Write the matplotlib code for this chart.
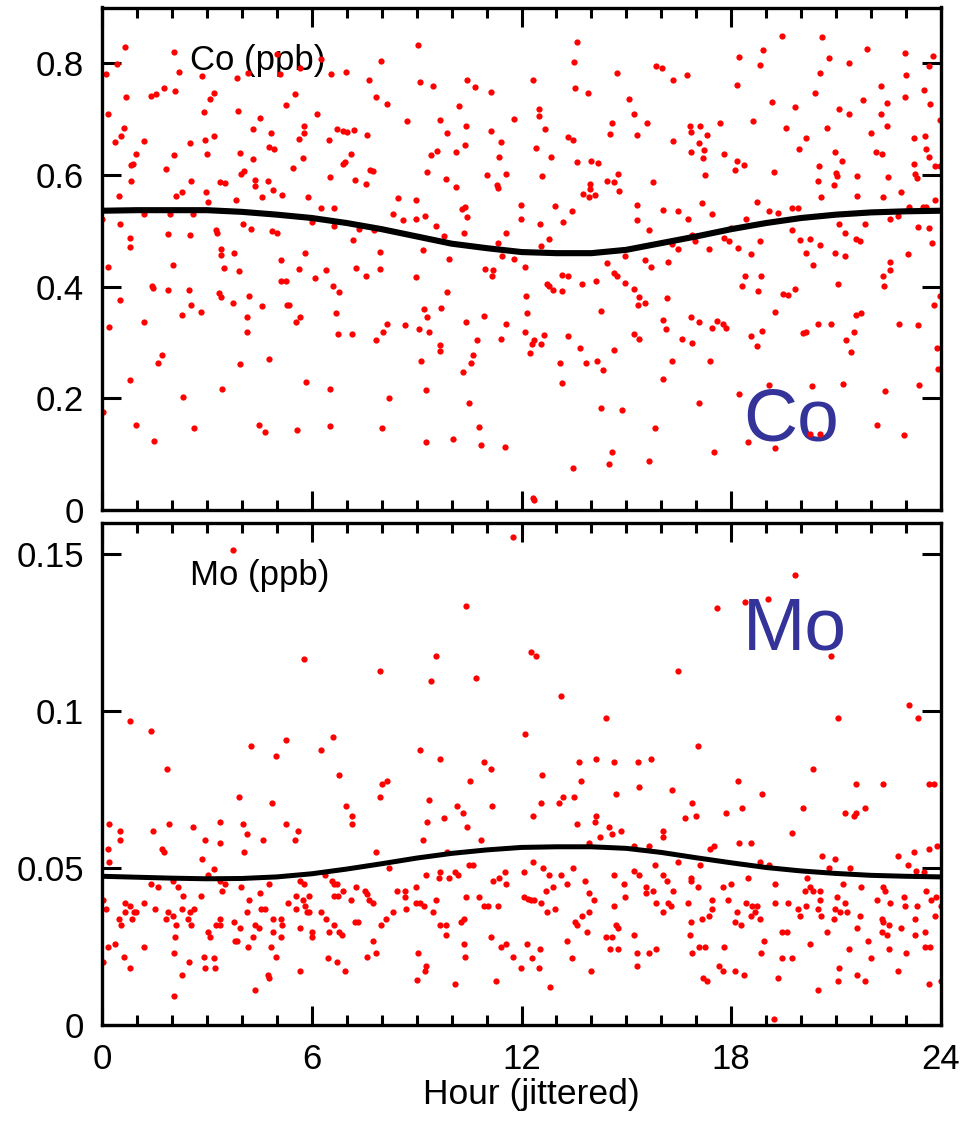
import numpy as np
import matplotlib
matplotlib.use("Agg")
import matplotlib.pyplot as plt
from matplotlib.ticker import MultipleLocator, FixedLocator

plt.rcParams['font.family'] = ['Liberation Sans', 'DejaVu Sans']

# hourly cobalt samples: (hour, ppb)
co_points = [
    (0.67, 0.830), (0.42, 0.798), (0.11, 0.781), (2.06, 0.821), (2.19, 0.785), (0.69, 0.739), (0.18, 0.709),
    (1.39, 0.742), (1.54, 0.745), (1.76, 0.755), (2.09, 0.751), (2.87, 0.778), (3.85, 0.774), (4.18, 0.782),
    (2.91, 0.713), (3.09, 0.736), (3.21, 0.747), (3.88, 0.715), (4.51, 0.702), (5.00, 0.817), (5.09, 0.781),
    (5.51, 0.745), (5.26, 0.725), (6.14, 0.709), (6.27, 0.808), (5.65, 0.791), (0.62, 0.685), (0.54, 0.670),
    (0.36, 0.659), (1.19, 0.660), (0.96, 0.638), (0.84, 0.618), (0.89, 0.619), (0.84, 0.590), (0.48, 0.562),
    (1.82, 0.611), (2.06, 0.636), (2.12, 0.562), (2.30, 0.570), (2.51, 0.657), (2.55, 0.590), (2.94, 0.663),
    (3.21, 0.670), (3.00, 0.638), (2.97, 0.570), (3.04, 0.551), (3.38, 0.587), (3.52, 0.585), (3.82, 0.556),
    (3.96, 0.639), (3.97, 0.602), (4.07, 0.607), (4.33, 0.683), (4.33, 0.628), (4.39, 0.591), (4.38, 0.580),
    (4.59, 0.560), (4.75, 0.589), (4.84, 0.675), (4.78, 0.650), (4.92, 0.647), (4.90, 0.574), (5.15, 0.565),
    (5.45, 0.612), (5.64, 0.664), (5.78, 0.688), (5.78, 0.676), (5.75, 0.631), (5.90, 0.560), (6.27, 0.540),
    (6.48, 0.662), (6.51, 0.597), (0.00, 0.522), (0.52, 0.513), (1.21, 0.531), (1.94, 0.530), (2.60, 0.530),
    (0.81, 0.487), (0.81, 0.471), (1.89, 0.494), (2.52, 0.492), (3.25, 0.501), (3.28, 0.497), (4.03, 0.513),
    (4.27, 0.503), (4.85, 0.499), (5.00, 0.497), (6.02, 0.516), (3.39, 0.467), (3.39, 0.456), (3.78, 0.460),
    (0.18, 0.435), (2.02, 0.439), (3.48, 0.434), (3.93, 0.428), (5.12, 0.447), (5.12, 0.411), (5.27, 0.411),
    (5.64, 0.432), (5.82, 0.460), (6.09, 0.415), (6.40, 0.430), (1.43, 0.402), (1.46, 0.398), (1.89, 0.394),
    (2.48, 0.394), (0.52, 0.377), (3.35, 0.388), (3.39, 0.381), (3.75, 0.370), (4.21, 0.383), (2.55, 0.368),
    (2.30, 0.349), (2.84, 0.355), (4.57, 0.366), (5.28, 0.367), (5.34, 0.367), (4.14, 0.345), (4.14, 0.319),
    (5.65, 0.345), (5.54, 0.336), (0.21, 0.328), (1.21, 0.336), (1.72, 0.277), (1.61, 0.264), (3.96, 0.262),
    (4.78, 0.271), (0.81, 0.232), (3.42, 0.217), (2.33, 0.202), (5.84, 0.230), (6.51, 0.216), (0.03, 0.175),
    (0.96, 0.153), (2.63, 0.147), (4.48, 0.153), (4.66, 0.139), (5.57, 0.143), (1.50, 0.124), (6.51, 0.150),
    (9.04, 0.832), (7.99, 0.804), (6.55, 0.781), (6.97, 0.785), (7.63, 0.771), (7.84, 0.740), (8.14, 0.728),
    (9.11, 0.766), (9.47, 0.760), (10.45, 0.771), (10.68, 0.758), (11.14, 0.749), (12.33, 0.770), (13.59, 0.839),
    (13.51, 0.802), (13.53, 0.756), (13.89, 0.746), (14.72, 0.783), (6.72, 0.683), (6.88, 0.679), (7.01, 0.677),
    (7.21, 0.681), (7.57, 0.672), (7.12, 0.638), (6.95, 0.623), (6.90, 0.619), (7.67, 0.609), (7.74, 0.607),
    (7.23, 0.591), (7.54, 0.584), (8.72, 0.696), (9.66, 0.698), (9.88, 0.675), (10.21, 0.724), (10.41, 0.688),
    (10.39, 0.654), (10.12, 0.641), (9.57, 0.643), (9.42, 0.636), (9.29, 0.605), (9.84, 0.592), (10.12, 0.579),
    (11.14, 0.679), (11.42, 0.659), (11.36, 0.632), (11.02, 0.600), (11.57, 0.602), (11.29, 0.582), (11.33, 0.577),
    (11.78, 0.701), (12.50, 0.718), (12.50, 0.706), (12.67, 0.683), (12.41, 0.649), (12.84, 0.633), (12.59, 0.598),
    (11.99, 0.547), (11.99, 0.522), (12.54, 0.513), (12.96, 0.545), (13.18, 0.515), (13.44, 0.536), (13.32, 0.668),
    (13.48, 0.663), (13.59, 0.624), (13.99, 0.625), (14.20, 0.621), (13.96, 0.584), (13.96, 0.575), (13.75, 0.566),
    (13.94, 0.561), (14.09, 0.564), (14.44, 0.589), (14.66, 0.587), (14.77, 0.601), (14.78, 0.571), (14.59, 0.694),
    (14.53, 0.673), (8.46, 0.558), (8.99, 0.555), (8.33, 0.530), (8.60, 0.519), (8.97, 0.522), (9.23, 0.526),
    (9.54, 0.509), (10.29, 0.539), (10.38, 0.543), (10.45, 0.525), (10.36, 0.496), (11.57, 0.497), (6.63, 0.541),
    (6.63, 0.509), (7.34, 0.503), (7.77, 0.501), (7.18, 0.483), (7.96, 0.462), (9.18, 0.466), (9.78, 0.490),
    (9.93, 0.449), (11.32, 0.478), (11.44, 0.455), (11.78, 0.450), (12.09, 0.436), (12.56, 0.473), (12.80, 0.485),
    (10.96, 0.432), (11.19, 0.430), (11.16, 0.419), (7.26, 0.434), (7.56, 0.419), (7.96, 0.432), (6.60, 0.401),
    (6.79, 0.390), (8.99, 0.417), (9.87, 0.390), (13.17, 0.421), (13.32, 0.419), (12.73, 0.404), (12.78, 0.401),
    (12.91, 0.394), (13.15, 0.392), (13.72, 0.405), (14.12, 0.411), (14.44, 0.443), (14.65, 0.425), (14.72, 0.420),
    (12.12, 0.383), (12.17, 0.352), (14.27, 0.356), (6.70, 0.352), (6.76, 0.315), (7.15, 0.315), (7.84, 0.305),
    (8.04, 0.318), (8.14, 0.334), (8.67, 0.332), (9.21, 0.360), (9.29, 0.345), (9.69, 0.362), (9.08, 0.324),
    (9.36, 0.319), (9.68, 0.296), (9.66, 0.285), (10.41, 0.337), (10.93, 0.347), (10.72, 0.305), (10.60, 0.277),
    (10.55, 0.264), (10.33, 0.247), (11.55, 0.334), (11.42, 0.307), (12.09, 0.319), (12.36, 0.304), (12.29, 0.298),
    (12.57, 0.298), (12.63, 0.313), (12.24, 0.281), (13.32, 0.311), (13.67, 0.290), (13.85, 0.264), (14.15, 0.266),
    (14.33, 0.251), (14.65, 0.287), (13.09, 0.264), (13.15, 0.228), (9.13, 0.267), (8.21, 0.200), (9.26, 0.215),
    (10.49, 0.192), (8.02, 0.147), (9.26, 0.122), (10.03, 0.128), (10.78, 0.149), (10.84, 0.116), (11.54, 0.113),
    (13.48, 0.075), (14.27, 0.183), (14.87, 0.179), (14.60, 0.103), (14.51, 0.083), (12.33, 0.022), (12.36, 0.018),
    (19.46, 0.849), (20.60, 0.847), (21.89, 0.826), (22.97, 0.819), (23.77, 0.813), (23.66, 0.795), (20.81, 0.810),
    (21.37, 0.800), (18.91, 0.824), (18.21, 0.811), (18.82, 0.797), (18.16, 0.762), (15.85, 0.795), (16.03, 0.792),
    (16.32, 0.770), (16.73, 0.779), (20.55, 0.783), (20.40, 0.747), (22.28, 0.760), (23.00, 0.779), (23.52, 0.752),
    (22.98, 0.740), (23.69, 0.728), (23.98, 0.698), (21.76, 0.734), (22.45, 0.729), (22.28, 0.709), (22.46, 0.688),
    (21.09, 0.719), (21.37, 0.709), (20.73, 0.685), (21.99, 0.675), (19.82, 0.721), (19.16, 0.730), (19.58, 0.685),
    (18.61, 0.696), (17.67, 0.693), (15.07, 0.736), (15.23, 0.709), (15.58, 0.693), (15.29, 0.672), (16.34, 0.660),
    (16.83, 0.688), (17.11, 0.688), (16.85, 0.677), (17.31, 0.672), (17.07, 0.657), (17.22, 0.644), (16.86, 0.641),
    (17.18, 0.630), (17.25, 0.600), (17.79, 0.638), (18.16, 0.625), (18.12, 0.609), (18.36, 0.618), (19.22, 0.605),
    (20.13, 0.666), (19.94, 0.647), (20.97, 0.641), (21.17, 0.625), (20.51, 0.617), (20.49, 0.589), (21.01, 0.603),
    (21.02, 0.598), (20.94, 0.582), (21.60, 0.598), (22.13, 0.641), (22.31, 0.637), (22.49, 0.597), (23.23, 0.666),
    (23.55, 0.670), (23.57, 0.647), (23.66, 0.632), (23.24, 0.619), (23.84, 0.617), (23.98, 0.617), (23.26, 0.601),
    (23.31, 0.594), (22.85, 0.570), (22.33, 0.560), (21.61, 0.562), (20.57, 0.560), (15.77, 0.587), (15.29, 0.547),
    (16.04, 0.537), (16.49, 0.536), (17.15, 0.549), (17.46, 0.530), (16.76, 0.521), (15.29, 0.519), (15.65, 0.501),
    (18.73, 0.551), (19.07, 0.536), (19.34, 0.532), (19.73, 0.540), (19.90, 0.540), (18.43, 0.521), (17.99, 0.505),
    (19.73, 0.501), (21.08, 0.513), (21.26, 0.497), (21.82, 0.513), (22.54, 0.521), (22.76, 0.526), (23.08, 0.543),
    (23.49, 0.543), (23.57, 0.542), (23.83, 0.556), (23.33, 0.507), (23.66, 0.505), (23.73, 0.479), (19.97, 0.484),
    (20.25, 0.485), (20.55, 0.475), (21.58, 0.485), (21.69, 0.481), (20.97, 0.461), (21.24, 0.455), (20.15, 0.461),
    (20.33, 0.438), (16.88, 0.492), (16.96, 0.482), (17.80, 0.488), (17.94, 0.481), (17.37, 0.467), (16.49, 0.468),
    (16.31, 0.476), (18.18, 0.470), (18.56, 0.458), (18.81, 0.481), (14.97, 0.455), (15.54, 0.448), (15.71, 0.436),
    (16.19, 0.444), (14.95, 0.406), (15.22, 0.395), (15.37, 0.381), (15.34, 0.368), (15.54, 0.370), (16.17, 0.379),
    (18.39, 0.419), (18.85, 0.419), (18.31, 0.401), (18.76, 0.392), (19.49, 0.387), (19.62, 0.385), (19.82, 0.395),
    (21.06, 0.405), (22.34, 0.419), (22.55, 0.444), (22.54, 0.430), (22.37, 0.402), (23.05, 0.459), (23.98, 0.383),
    (23.80, 0.368), (19.25, 0.355), (16.04, 0.340), (16.13, 0.324), (16.85, 0.345), (17.07, 0.336), (17.58, 0.339),
    (17.46, 0.326), (17.77, 0.334), (17.86, 0.326), (15.23, 0.315), (15.37, 0.307), (16.58, 0.306), (16.87, 0.300),
    (18.56, 0.311), (18.88, 0.321), (18.73, 0.294), (20.05, 0.317), (20.15, 0.318), (20.48, 0.334), (20.85, 0.334),
    (21.29, 0.304), (21.52, 0.319), (21.58, 0.349), (21.70, 0.352), (21.42, 0.283), (22.79, 0.334), (23.33, 0.332),
    (23.88, 0.291), (23.91, 0.253), (16.31, 0.266), (17.40, 0.266), (16.06, 0.234), (17.09, 0.192), (15.83, 0.147),
    (15.65, 0.087), (17.52, 0.103), (18.21, 0.207), (18.48, 0.122), (19.25, 0.111), (19.09, 0.224), (20.32, 0.222),
    (20.25, 0.137), (20.55, 0.137), (21.20, 0.226), (22.39, 0.213), (22.18, 0.153), (22.94, 0.134), (23.36, 0.224),
]

# hourly molybdenum samples: (hour, ppb)
mo_points = [
    (3.75, 0.1515), (0.81, 0.0969), (1.39, 0.0938), (1.87, 0.0817), (4.26, 0.0889), (4.99, 0.0858), (5.26, 0.0909),
    (5.77, 0.1167), (6.26, 0.0878), (3.93, 0.0728), (4.87, 0.0707), (0.21, 0.0641), (1.93, 0.0641), (2.60, 0.0631),
    (3.38, 0.0646), (4.02, 0.0641), (0.52, 0.0617), (1.45, 0.0617), (4.14, 0.0610), (5.26, 0.0641), (5.62, 0.0617),
    (0.52, 0.0590), (2.96, 0.0590), (3.38, 0.0580), (4.60, 0.0590), (5.51, 0.0590), (0.18, 0.0560), (1.71, 0.0560),
    (1.76, 0.0550), (0.21, 0.0520), (4.06, 0.0550), (2.87, 0.0529), (3.20, 0.0498), (3.02, 0.0479), (1.41, 0.0449),
    (1.60, 0.0439), (2.02, 0.0459), (2.18, 0.0439), (2.33, 0.0410), (2.84, 0.0410), (3.37, 0.0459), (3.51, 0.0449),
    (3.42, 0.0428), (3.97, 0.0439), (4.51, 0.0420), (4.78, 0.0449), (4.21, 0.0398), (5.65, 0.0459), (5.79, 0.0449),
    (6.38, 0.0479), (0.04, 0.0398), (0.11, 0.0369), (0.66, 0.0389), (0.81, 0.0379), (0.91, 0.0359), (0.98, 0.0359),
    (0.65, 0.0359), (0.49, 0.0339), (0.55, 0.0318), (0.86, 0.0339), (1.20, 0.0389), (1.51, 0.0369), (1.82, 0.0339),
    (1.88, 0.0359), (2.04, 0.0349), (2.12, 0.0318), (2.09, 0.0279), (2.29, 0.0369), (2.47, 0.0339), (2.53, 0.0359),
    (2.64, 0.0369), (2.54, 0.0318), (3.02, 0.0298), (3.09, 0.0279), (3.25, 0.0318), (3.38, 0.0339), (3.38, 0.0318),
    (3.78, 0.0328), (3.96, 0.0308), (3.81, 0.0269), (3.87, 0.0269), (4.14, 0.0359), (4.31, 0.0279), (4.38, 0.0318),
    (4.48, 0.0308), (4.55, 0.0369), (4.67, 0.0369), (4.89, 0.0339), (4.89, 0.0298), (5.11, 0.0339), (5.14, 0.0318),
    (5.11, 0.0279), (4.83, 0.0249), (4.99, 0.0218), (4.17, 0.0249), (5.33, 0.0389), (5.54, 0.0369), (5.56, 0.0410),
    (5.76, 0.0398), (5.82, 0.0379), (5.91, 0.0410), (5.86, 0.0359), (5.93, 0.0359), (6.26, 0.0359), (6.40, 0.0339),
    (5.66, 0.0308), (6.01, 0.0298), (6.01, 0.0279), (6.49, 0.0298), (0.18, 0.0249), (0.36, 0.0259), (0.63, 0.0218),
    (1.19, 0.0249), (0.02, 0.0202), (0.81, 0.0181), (2.06, 0.0231), (2.50, 0.0202), (2.92, 0.0218), (2.94, 0.0181),
    (3.20, 0.0212), (3.24, 0.0181), (2.29, 0.0160), (4.74, 0.0160), (4.78, 0.0150), (5.65, 0.0171), (4.39, 0.0111),
    (2.06, 0.0091), (6.47, 0.0212),
    (11.77, 0.1556), (10.40, 0.1337), (9.56, 0.1177), (9.41, 0.1096), (7.95, 0.1127), (10.71, 0.1106), (12.28, 0.1188),
    (12.41, 0.1177), (13.14, 0.1049), (14.42, 0.0979), (12.11, 0.0928), (6.60, 0.0918), (6.78, 0.0798), (9.10, 0.0878),
    (9.68, 0.0848), (10.92, 0.0838), (11.14, 0.0817), (10.53, 0.0777), (7.96, 0.0728), (8.01, 0.0768), (8.14, 0.0777),
    (12.58, 0.0798), (13.64, 0.0838), (14.13, 0.0848), (14.64, 0.0838), (13.71, 0.0777), (14.70, 0.0737), (12.55, 0.0707),
    (13.18, 0.0728), (13.07, 0.0707), (13.49, 0.0728), (6.98, 0.0697), (7.15, 0.0666), (7.14, 0.0641), (9.35, 0.0717),
    (9.29, 0.0646), (9.77, 0.0660), (10.16, 0.0697), (10.32, 0.0676), (10.44, 0.0631), (11.15, 0.0697), (9.18, 0.0590),
    (10.84, 0.0590), (12.33, 0.0666), (13.59, 0.0641), (14.12, 0.0666), (14.10, 0.0646), (14.49, 0.0631), (14.60, 0.0610),
    (14.86, 0.0617), (14.25, 0.0600), (13.92, 0.0580), (7.84, 0.0550), (9.87, 0.0550), (10.49, 0.0509), (10.60, 0.0509),
    (12.33, 0.0520), (12.61, 0.0500), (13.46, 0.0500), (12.07, 0.0489), (11.53, 0.0489), (11.19, 0.0459), (11.35, 0.0469),
    (11.57, 0.0449), (12.79, 0.0479), (13.14, 0.0479), (13.31, 0.0449), (13.83, 0.0459), (14.65, 0.0479), (14.93, 0.0449),
    (8.20, 0.0500), (9.26, 0.0479), (9.68, 0.0489), (9.65, 0.0469), (9.93, 0.0469), (10.10, 0.0489), (10.19, 0.0479),
    (6.57, 0.0459), (6.64, 0.0449), (6.71, 0.0449), (6.90, 0.0428), (7.26, 0.0439), (7.53, 0.0428), (7.57, 0.0419),
    (7.65, 0.0398), (7.76, 0.0389), (7.11, 0.0398), (6.63, 0.0410), (6.76, 0.0410), (8.45, 0.0428), (8.66, 0.0428),
    (8.68, 0.0408), (8.99, 0.0439), (8.97, 0.0389), (9.10, 0.0389), (9.20, 0.0379), (9.54, 0.0398), (8.69, 0.0369),
    (9.47, 0.0359), (8.32, 0.0359), (8.13, 0.0339), (7.98, 0.0318), (6.63, 0.0318), (6.79, 0.0298), (6.87, 0.0288),
    (7.24, 0.0328), (7.33, 0.0328), (7.74, 0.0269), (7.84, 0.0231), (7.57, 0.0218), (6.71, 0.0202), (6.96, 0.0171),
    (9.66, 0.0318), (9.85, 0.0318), (9.83, 0.0288), (10.28, 0.0328), (10.35, 0.0339), (10.40, 0.0408), (10.77, 0.0408),
    (10.93, 0.0379), (11.03, 0.0379), (11.33, 0.0379), (12.07, 0.0408), (12.20, 0.0403), (12.26, 0.0398), (12.37, 0.0398),
    (12.55, 0.0389), (12.71, 0.0428), (12.90, 0.0439), (12.74, 0.0359), (12.95, 0.0369), (13.94, 0.0420), (14.07, 0.0398),
    (13.92, 0.0359), (13.73, 0.0349), (13.53, 0.0328), (13.59, 0.0318), (13.88, 0.0298), (14.64, 0.0379), (14.70, 0.0318),
    (14.76, 0.0308), (14.97, 0.0408), (14.42, 0.0279), (14.59, 0.0279), (11.12, 0.0279), (11.41, 0.0249), (11.57, 0.0259),
    (10.35, 0.0259), (10.37, 0.0218), (9.03, 0.0231), (12.16, 0.0259), (12.53, 0.0241), (12.31, 0.0212), (11.77, 0.0218),
    (11.98, 0.0181), (12.51, 0.0181), (13.31, 0.0269), (13.44, 0.0212), (13.99, 0.0171), (14.52, 0.0241), (14.76, 0.0241),
    (9.28, 0.0187), (9.23, 0.0171), (9.02, 0.0142), (10.11, 0.0131), (11.28, 0.0141), (12.82, 0.0121),
    (19.82, 0.1435), (19.05, 0.1357), (18.39, 0.1349), (17.58, 0.1328), (20.84, 0.1177), (16.49, 0.1127), (23.09, 0.1019),
    (23.34, 0.0979), (21.06, 0.0979), (17.06, 0.0889), (15.34, 0.0838), (15.70, 0.0848), (20.33, 0.0817), (15.37, 0.0758),
    (16.31, 0.0748), (18.18, 0.0778), (18.88, 0.0737), (21.58, 0.0768), (22.34, 0.0768), (23.65, 0.0768), (23.81, 0.0768),
    (16.88, 0.0707), (16.98, 0.0666), (16.67, 0.0660), (17.85, 0.0676), (18.31, 0.0691), (20.06, 0.0691), (21.26, 0.0676),
    (21.57, 0.0676), (21.51, 0.0666), (21.82, 0.0691), (16.04, 0.0617), (16.06, 0.0600), (19.73, 0.0611), (15.23, 0.0570),
    (15.65, 0.0570), (17.40, 0.0560), (17.52, 0.0570), (18.21, 0.0580), (18.56, 0.0580), (20.60, 0.0539), (20.98, 0.0529),
    (22.77, 0.0539), (23.23, 0.0550), (23.65, 0.0560), (23.88, 0.0570), (16.48, 0.0520), (15.83, 0.0509), (17.10, 0.0509),
    (18.82, 0.0520), (19.09, 0.0509), (21.41, 0.0500), (20.81, 0.0500), (23.05, 0.0509), (23.29, 0.0490), (23.52, 0.0489),
    (15.22, 0.0490), (15.37, 0.0479), (16.04, 0.0479), (16.17, 0.0459), (16.85, 0.0469), (16.85, 0.0459), (18.48, 0.0469),
    (20.16, 0.0469), (15.55, 0.0439), (15.55, 0.0420), (15.76, 0.0428), (16.33, 0.0428), (17.06, 0.0439), (17.75, 0.0439),
    (17.99, 0.0449), (17.92, 0.0398), (19.24, 0.0449), (20.10, 0.0428), (20.25, 0.0439), (20.35, 0.0428), (20.54, 0.0428),
    (21.21, 0.0449), (21.03, 0.0408), (21.70, 0.0439), (22.35, 0.0439), (22.41, 0.0428), (22.18, 0.0398), (22.55, 0.0389),
    (22.93, 0.0408), (23.57, 0.0428), (23.71, 0.0398), (23.86, 0.0408), (23.99, 0.0379), (15.86, 0.0389), (16.19, 0.0389),
    (16.28, 0.0379), (16.76, 0.0389), (17.46, 0.0398), (17.45, 0.0369), (18.16, 0.0359), (18.41, 0.0389), (18.60, 0.0379),
    (18.73, 0.0379), (18.69, 0.0359), (18.56, 0.0349), (18.82, 0.0339), (19.24, 0.0389), (19.61, 0.0389), (19.90, 0.0369),
    (19.96, 0.0349), (20.15, 0.0379), (20.48, 0.0369), (20.54, 0.0398), (20.57, 0.0349), (20.96, 0.0369), (21.11, 0.0359),
    (21.31, 0.0359), (20.94, 0.0339), (21.68, 0.0349), (21.25, 0.0389), (22.30, 0.0339), (22.34, 0.0328), (22.50, 0.0318),
    (22.85, 0.0308), (22.98, 0.0379), (23.31, 0.0379), (23.27, 0.0339), (23.84, 0.0349), (16.04, 0.0359), (16.85, 0.0328),
    (17.15, 0.0339), (17.36, 0.0349), (18.12, 0.0328), (18.28, 0.0318), (15.22, 0.0288), (16.82, 0.0288), (18.93, 0.0269),
    (19.46, 0.0298), (19.60, 0.0298), (20.73, 0.0298), (21.60, 0.0308), (22.30, 0.0298), (22.46, 0.0288), (23.25, 0.0288),
    (23.55, 0.0298), (20.25, 0.0259), (21.91, 0.0269), (15.29, 0.0231), (15.29, 0.0187), (15.65, 0.0231), (15.86, 0.0241),
    (16.88, 0.0231), (17.09, 0.0249), (17.25, 0.0249), (17.79, 0.0249), (18.85, 0.0231), (19.46, 0.0212), (19.73, 0.0212),
    (21.37, 0.0241), (22.00, 0.0212), (22.51, 0.0241), (22.99, 0.0231), (23.55, 0.0249), (23.68, 0.0249), (17.66, 0.0187),
    (17.76, 0.0171), (18.12, 0.0171), (18.36, 0.0160), (17.18, 0.0150), (17.31, 0.0141), (19.33, 0.0150), (21.08, 0.0181),
    (21.04, 0.0141), (21.60, 0.0160), (21.82, 0.0141), (22.76, 0.0171), (20.49, 0.0111), (23.66, 0.0131), (23.99, 0.0141),
    (19.22, 0.0019),
]

# fitted diurnal cycle, one value per hour
fit_hour = np.arange(0, 25)
co_fit = [0.536, 0.537, 0.537, 0.537, 0.534, 0.529, 0.523, 0.514, 0.503, 0.490, 0.477, 0.469, 0.462, 0.460,
          0.460, 0.466, 0.478, 0.490, 0.503, 0.514, 0.523, 0.529, 0.533, 0.535, 0.536]
mo_fit = [0.0474, 0.0471, 0.0468, 0.0466, 0.0467, 0.0472, 0.0482, 0.0497, 0.0514, 0.0532, 0.0547, 0.0558, 0.0566,
          0.0568, 0.0568, 0.0563, 0.0550, 0.0533, 0.0517, 0.0502, 0.0491, 0.0483, 0.0477, 0.0474, 0.0472]

hour_ticks = [0, 6, 12, 18, 24]

co_hour, co_ppb = np.array(co_points).T
mo_hour, mo_ppb = np.array(mo_points).T

W, H = 961, 1124
fig = plt.figure(figsize=(W / 100, H / 100), dpi=100)
ax1 = fig.add_axes([102 / W, 1 - 510 / H, 839 / W, 502.5 / H])
ax2 = fig.add_axes([102 / W, 1 - 1025 / H, 839 / W, 502 / H])

panels = [
    (ax1, co_hour, co_ppb, co_fit, 4.4, (0, 0.9), [0, 0.2, 0.4, 0.6, 0.8], ["0", "0.2", "0.4", "0.6", "0.8"],
     "Co (ppb)", "Co", 0.139),
    (ax2, mo_hour, mo_ppb, mo_fit, 3.6, (0, 0.16), [0, 0.05, 0.1, 0.15], ["0", "0.05", "0.1", "0.15"],
     "Mo (ppb)", "Mo", 0.748),
]

for ax, hx, vy, fit, lw, ylim, yt, ytl, unit, big, big_y in panels:
    ax.plot(hx, vy, 'o', color='red', markersize=4.5, markeredgewidth=0, zorder=2)
    ax.plot(fit_hour, fit, color='black', linewidth=lw, solid_capstyle='butt', zorder=3)
    ax.set_xlim(0, 24)
    ax.set_ylim(*ylim)
    ax.xaxis.set_major_locator(FixedLocator(hour_ticks))
    ax.xaxis.set_minor_locator(MultipleLocator(1))
    ax.yaxis.set_major_locator(FixedLocator(yt))
    ax.set_yticklabels(ytl)
    ax.tick_params(which='both', direction='in', top=True, right=True, width=2.2, labelsize=25)
    ax.tick_params(axis='x', pad=13)
    ax.tick_params(axis='y', pad=13)
    ax.tick_params(which='major', length=13.5)
    ax.tick_params(which='minor', length=7)
    for sp in ax.spines.values():
        sp.set_linewidth(2.4)
    ax.text(0.105, 0.876 if ax is ax1 else 0.877, unit, transform=ax.transAxes, fontsize=25,
            va='baseline', ha='left', zorder=1)
    ax.text(0.764, big_y, big, transform=ax.transAxes, fontsize=54, color='#333399',
            va='baseline', ha='left', zorder=1)

ax1.tick_params(labelbottom=False)
ax2.set_xticklabels([str(h) for h in hour_ticks])
fig.text(531 / W, 1 - 1104 / H, "Hour (jittered)", fontsize=25.5, ha='center', va='baseline')

fig.savefig("out.png", dpi=100)
